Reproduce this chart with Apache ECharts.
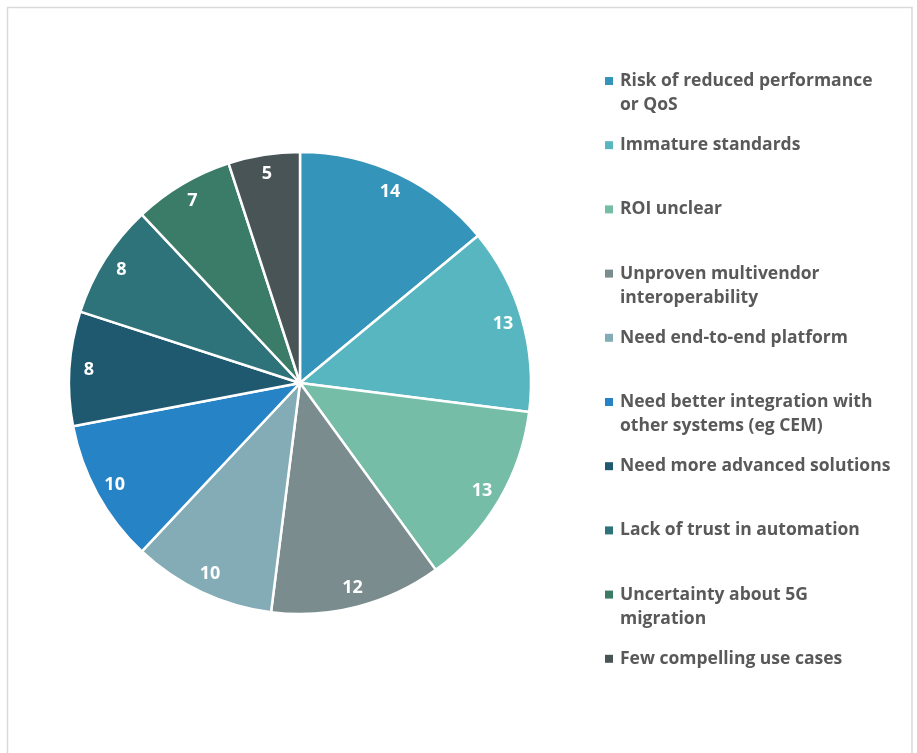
<!DOCTYPE html>
<html>
<head>
<meta charset="utf-8">
<style>
  html, body { margin: 0; padding: 0; background: #ffffff; }
  #chart { width: 917px; height: 753px; }
</style>
<script src="https://cdn.jsdelivr.net/npm/echarts@6/dist/echarts.min.js"></script>
</head>
<body>
<div id="chart"></div>
<script>
// Barriers to automation: share of respondents per answer
const categories = [
  'Risk of reduced performance or QoS',
  'Immature standards',
  'ROI unclear',
  'Unproven multivendor interoperability',
  'Need end-to-end platform',
  'Need better integration with other systems (eg CEM)',
  'Need more advanced solutions',
  'Lack of trust in automation',
  'Uncertainty about 5G migration',
  'Few compelling use cases'
];
const values = [14, 13, 13, 12, 10, 10, 8, 8, 7, 5];
// Wrapped legend text for the long answers
const legendLines = [
  ['Risk of reduced performance', 'or QoS'],
  ['Immature standards'],
  ['ROI unclear'],
  ['Unproven multivendor', 'interoperability'],
  ['Need end-to-end platform'],
  ['Need better integration with', 'other systems (eg CEM)'],
  ['Need more advanced solutions'],
  ['Lack of trust in automation'],
  ['Uncertainty about 5G', 'migration'],
  ['Few compelling use cases']
];
const colors = [
  '#3494BA', '#58B6C0', '#75BDA7', '#7A8C8E', '#84ACB6',
  '#2683C6', '#1F5970', '#2E727A', '#3B7C69', '#495456'
];

const FONT = '"Open Sans", Lato, sans-serif';
const LINE_H = 24;
const CX = 300, CY = 383, R = 231;

const pieData = categories.map((name, i) => ({
  name: name,
  value: values[i],
  itemStyle: { color: colors[i] }
}));

// One legend block per answer so the entries sit on an even vertical rhythm.
// Wrapped entries get a leading blank line so the marker lines up with the first line.
const legends = categories.map((name, i) => {
  const lines = legendLines[i];
  const twoLine = lines.length > 1;
  const iconY = 81 + i * 64.2;
  const text = twoLine ? '\n' + lines.join('\n') : lines[0];
  return {
    orient: 'vertical',
    left: 605,
    top: iconY - (twoLine ? 1.5 * LINE_H : 0.5 * LINE_H),
    padding: 0,
    itemWidth: 8,
    itemHeight: 8,
    icon: 'rect',
    selectedMode: false,
    itemStyle: { borderWidth: 0 },
    formatter: () => text,
    textStyle: {
      fontFamily: FONT,
      fontSize: 17.5,
      fontWeight: 'bold',
      color: '#595959',
      lineHeight: LINE_H,
      padding: [0, 0, 0, 2]
    },
    data: [name]
  };
});

const chart = echarts.init(document.getElementById('chart'), null, { renderer: 'canvas' });
chart.setOption({
  animation: false,
  backgroundColor: '#ffffff',
  legend: legends,
  graphic: [{
    type: 'rect',
    silent: true,
    shape: { x: 7.5, y: 7.5, width: 904.5, height: 800 },
    style: { fill: 'none', stroke: '#d9d9d9', lineWidth: 1.5 }
  }],
  series: [
    {
      type: 'pie',
      center: [CX, CY],
      radius: [0, R],
      startAngle: 90,
      clockwise: true,
      avoidLabelOverlap: false,
      label: { show: false },
      labelLine: { show: false },
      emphasis: { disabled: true },
      itemStyle: { borderColor: '#ffffff', borderWidth: 2.5 },
      data: pieData
    },
    {
      // transparent ring that carries the value labels near the rim
      type: 'pie',
      center: [CX, CY],
      radius: [186, R],
      startAngle: 90,
      clockwise: true,
      silent: true,
      avoidLabelOverlap: false,
      emphasis: { disabled: true },
      itemStyle: { color: 'rgba(0,0,0,0)', borderWidth: 0 },
      label: {
        show: true,
        position: 'inside',
        formatter: '{c}',
        color: '#ffffff',
        fontFamily: FONT,
        fontSize: 18,
        fontWeight: 'bold'
      },
      labelLine: { show: false },
      data: categories.map((name, i) => ({ name: name, value: values[i] }))
    }
  ]
});
</script>
</body>
</html>
